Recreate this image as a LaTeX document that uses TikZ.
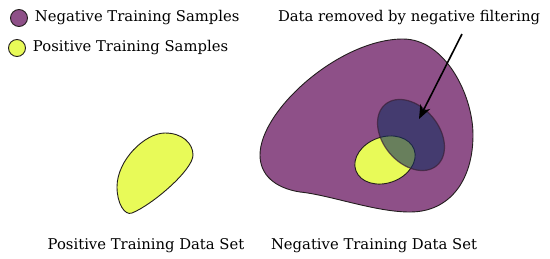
\documentclass[tikz,border=0pt]{standalone}
\usepackage{fontspec}
\setmainfont{DejaVu Serif}
\usepackage{tikz}
\usetikzlibrary{arrows.meta,positioning}
\usepackage{xcolor}
\definecolor{negpurple}{RGB}{142,80,136}
\definecolor{posyellow}{RGB}{232,250,88}
\definecolor{filternavy}{RGB}{20,45,95}
\definecolor{rimgray}{RGB}{35,30,30}

\begin{document}
\begin{tikzpicture}[x=1pt, y=-1pt, >=Stealth,
    every node/.style={font=\fontsize{14.8}{17}\selectfont},
    dot/.style={circle, draw=rimgray, line width=0.9pt, minimum size=17pt, inner sep=0pt},
    blob/.style={draw=rimgray, line width=0.9pt}]
    \useasboundingbox (0,0) rectangle (550,258);
    % legend
    \node[dot, fill=negpurple] (negdot) at (19,18) {};
    \node[right=3.5pt of negdot] (neglabel) {Negative Training Samples};
    \node[dot, fill=posyellow] (posdot) at (17,48) {};
    \node[right=3.5pt of posdot] (poslabel) {Positive Training Samples};
    % positive set
    \draw[blob, fill=posyellow] (165,133) .. controls (182,133) and (193,143) .. (193,155)
        .. controls (193,170) and (152,205) .. (132,213)
        .. controls (124.5,216) and (117,203) .. (117,187)
        .. controls (117,160) and (145,133) .. cycle;
    \node (posset) at (146,246) {Positive Training Data Set};
    % negative set
    \draw[blob, fill=negpurple] (403,39) .. controls (445,39) and (473,95) .. (473,135)
        .. controls (473,180) and (450,212) .. (410,212)
        .. controls (375,212) and (330,195) .. (300,192)
        .. controls (275,188) and (260,175) .. (260,155)
        .. controls (260,110) and (340,39) .. cycle;
    \draw[blob, fill=posyellow, shift={(385,160)}, rotate=20] (0,0) ellipse [x radius=31, y radius=23];
    \draw[draw=negpurple!40!black, line width=1.2pt, draw opacity=0.7, fill=filternavy, fill opacity=0.6,
        shift={(411,135)}, rotate=-50] (0,0) ellipse [x radius=40, y radius=28];
    \node (negset) at (374,246) {Negative Training Data Set};
    % filtered part
    \node (filterlabel) at (409,18) {Data removed by negative filtering};
    \coordinate (filtertail) at (462,34);
    \coordinate (filterhead) at (419,119);
    \draw[-{Stealth[length=14pt, width=11pt]}, line width=1.6pt] (filtertail) -- (filterhead);
\end{tikzpicture}
\end{document}
